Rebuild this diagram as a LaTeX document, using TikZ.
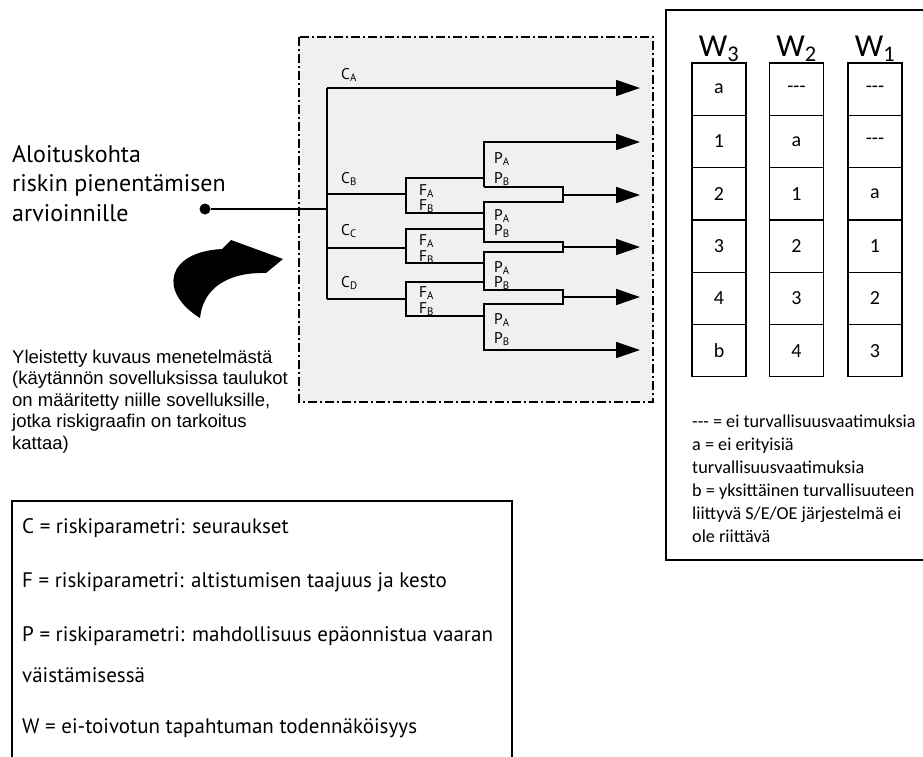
\documentclass[tikz,border=0pt]{standalone}
\usepackage{fontspec}
\setmainfont{PT Sans}
\newfontfamily\calfont{Carlito}
\newfontfamily\arialfont{Liberation Sans}
\usetikzlibrary{arrows.meta}
\tikzstyle{end} = [circle, minimum size=11pt, fill, inner sep=0pt]
\tikzstyle{branch} = [line width=1.6pt]
\tikzstyle{outarrow} = [line width=1.6pt, -{Triangle[length=24pt,width=16pt]}]
\tikzstyle{frame} = [line width=1.4pt, fill=black!6, dash pattern=on 9pt off 3pt on 2pt off 3pt]
\tikzstyle{box} = [line width=1.6pt]
\tikzstyle{lbl} = [anchor=base west, inner sep=0pt, font=\fontsize{15.5}{15.5}\selectfont]
\tikzstyle{cell} = [draw, line width=1.3pt, minimum width=54pt, minimum height=52.3pt, inner sep=0pt, font=\calfont\fontsize{20}{20}\selectfont]
\tikzstyle{whead} = [anchor=base, inner sep=0pt, font=\calfont\fontsize{32}{32}\selectfont]
\tikzstyle{textblock} = [anchor=base west, inner sep=0pt, align=left]

\begin{document}
\begin{tikzpicture}[x=1pt,y=-1pt]
\useasboundingbox (0,0) rectangle (923,756);

% dash-dot frame of the graph
\draw[frame] (299,37) rectangle (653,402);

% starting point and trunk
\node[end] (start) at (205,209) {};
\coordinate (ca) at (327,88);
\coordinate (cd) at (327,299);
\coordinate (tip) at (640,0);
\draw[branch] (start) -- (start -| ca);
\draw[branch] (ca) -- (cd);
\draw[outarrow] (ca) -- (ca -| tip);

% C branches with F brackets
\foreach \n/\yc/\yt/\yb in {b/194/178/213, c/248/229/263, d/299/282/316} {
  \coordinate (c\n) at (327,\yc);
  \coordinate (f\n) at (406,\yc);
  \draw[branch] (c\n) -- (f\n);
  \draw[branch] (484,\yt) -| (406,\yb) -- (484,\yb);
}

% P branches
\draw[outarrow] (484,187) |- (640,142);
\draw[outarrow] (484,187) -| (563,202) -| (484,242) -| (563,252) -| (484,290) -| (563,304) -| (484,350) -- (640,350);
\coordinate (m1) at (563,195);
\coordinate (m2) at (563,247);
\coordinate (m3) at (563,297);
\draw[outarrow] (m1) -- (m1 -| tip);
\draw[outarrow] (m2) -- (m2 -| tip);
\draw[outarrow] (m3) -- (m3 -| tip);

% labels
\node[lbl] (la) at (341,79) {C\textsubscript{A}};
\node[lbl] (lb) at (341,183) {C\textsubscript{B}};
\node[lbl] (lc) at (341,235) {C\textsubscript{C}};
\node[lbl] (ld) at (341,287) {C\textsubscript{D}};
\foreach \n/\ya/\yb in {b/195/210, c/245/261, d/297/313} {
  \node[lbl] (fa\n) at (419,\ya) {F\textsubscript{A}};
  \node[lbl] (fb\n) at (419,\yb) {F\textsubscript{B}};
}
\foreach \n/\ya/\yb in {1/163/183, 2/220/235, 3/272/287, 4/324/343} {
  \node[lbl] (pa\n) at (494,\ya) {P\textsubscript{A}};
  \node[lbl] (pb\n) at (494,\yb) {P\textsubscript{B}};
}

% left texts
\node[textblock, font=\fontsize{24}{29.5}\selectfont] (intro) at (12,221)
  {Aloituskohta\\riskin pienentämisen\\arvioinnille};
\fill (200,318) .. controls (158,292) and (166,252) .. (222,249) -- (231,240) -- (283,259)
  -- (266,273) .. controls (228,272) and (203,288) .. (200,318) -- cycle;
\node[textblock, font=\arialfont\fontsize{18.5}{21.5}\selectfont] (general) at (12,449)
  {Yleistetty kuvaus menetelmästä\\(käytännön sovelluksissa taulukot\\on määritetty niille sovelluksille,\\jotka riskigraafin on tarkoitus\\kattaa)};

% W table
\draw[box] (666,10) rectangle (935,560);
\foreach \col/\x/\vals in {3/719/{a,1,2,3,4,b}, 2/796.5/{-{}-{}-,a,1,2,3,4}, 1/875/{-{}-{}-,-{}-{}-,a,1,2,3}} {
  \node[whead] (w\col) at (\x,56) {W\textsubscript{\col}};
  \foreach \v [count=\i] in \vals {
    \node[cell] (w\col-\i) at (\x,{63+52.3*(\i-0.5)}) {\v};
  }
}
\node[textblock, font=\calfont\fontsize{18.2}{23}\selectfont] (legend) at (692,542)
  {-{}-{}- = ei turvallisuusvaatimuksia\\a = ei erityisiä\\turvallisuusvaatimuksia\\b = yksittäinen turvallisuuteen\\liittyvä S/E/OE järjestelmä ei\\ole riittävä};

% parameter box
\draw[box] (12,501) rectangle (512,770);
\begin{scope}[every node/.style={textblock, font=\fontsize{21}{41}\selectfont}]
\node (pc) at (22,533) {C = riskiparametri: seuraukset};
\node (pf) at (22,587) {F = riskiparametri: altistumisen taajuus ja kesto};
\node (pp) at (22,682) {P = riskiparametri: mahdollisuus epäonnistua vaaran\\väistämisessä};
\node (pw) at (22,733) {W = ei-toivotun tapahtuman todennäköisyys};
\end{scope}
\end{tikzpicture}
\end{document}
